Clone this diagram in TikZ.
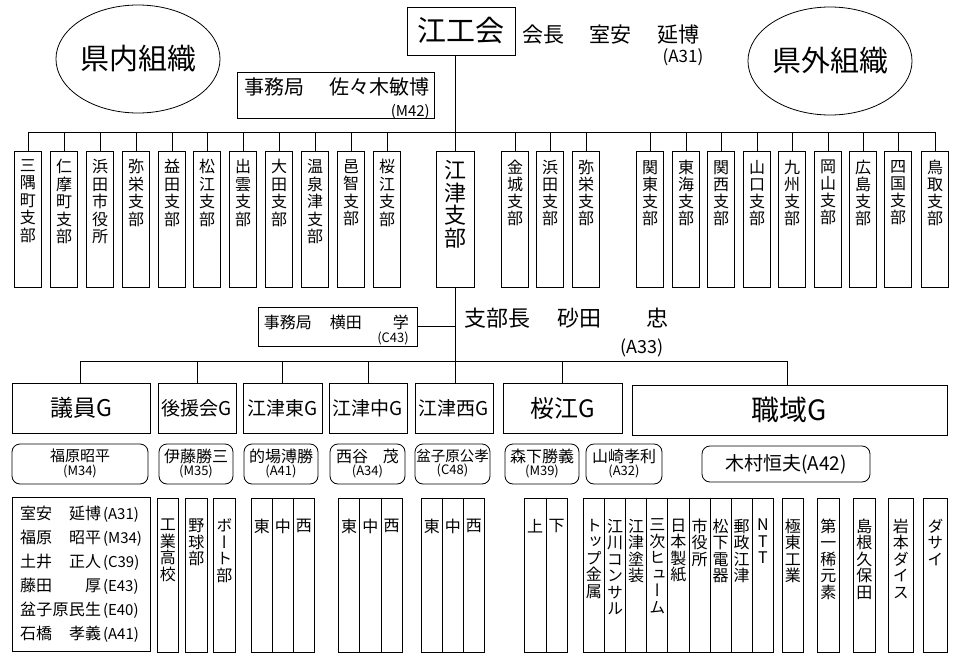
\documentclass[tikz,border=0pt]{standalone}
\usepackage{fontspec}
\usepackage{graphicx}
\setmainfont{Noto Sans CJK JP}
\newfontfamily\vfont[RawFeature=+vert]{Noto Sans CJK JP}
\usetikzlibrary{shapes.geometric}
\newcommand\fs[1]{\fontsize{#1}{#1}\selectfont}
\newdimen\vtw
\def\vtend{\vtend}
\def\vtA#1{\ifx#1\vtend\else\hbox to\vtw{\hss#1\hss}\expandafter\vtA\fi}
\newcommand\vcol[6]{\vbox to #2{\kern#3\hbox to #1{\hss\vbox{\fontsize{#4}{#5}\vfont\vtw=#4\relax\expandafter\vtA#6\vtend}\hss}\vfil}}
\newcommand\two[3]{\begin{tabular}{@{}c@{}}\fs{#1}#2\\[-1pt]\fs{13}#3\end{tabular}}
\newcommand\mline[3]{\hbox{\hbox to 81pt{#1\hfill#2}\kern2pt\fs{15}#3}}
\tikzset{
  box/.style={draw, line width=0.8pt, inner sep=0pt},
  ln/.style={line width=0.8pt},
  ellbox/.style={draw, ellipse, line width=0.8pt, inner sep=0pt, minimum width=146pt, minimum height=108pt, font=\fs{29}},
  txt/.style={inner sep=0pt},
  branch/.style={box, anchor=north},
  grp/.style={box, minimum height=50pt},
  person/.style={box, rounded corners=8pt, minimum height=40pt},
  col/.style={box, anchor=north west},
}
\begin{document}
\begin{tikzpicture}[x=1pt,y=-1pt]
\useasboundingbox (0,0) rectangle (967,664);
% top
\node[ellbox] (kennai) at (138,59) {県内組織};
\node[ellbox] (kengai) at (830,61) {県外組織};
\node[box, minimum width=108pt, minimum height=48pt, font=\fs{29}] (koukou) at (461,31) {江工会};
\node[txt, anchor=west, font=\fs{21}] (kaicho) at (522,35) {会長\hspace{25pt}室安\hspace{26pt}延博};
\node[txt, font=\fs{17}] (a31) at (683,57) {(A31)};
\node[box, minimum width=197pt, minimum height=46pt] (jim1) at (335.5,95) {};
\node[txt, anchor=east, font=\fs{20}] (jim1t) at (430,87) {事務局\hspace{25pt}佐々木敏博};
\node[txt, anchor=east, font=\fs{15}] (jim1c) at (430,112) {(M42)};
% branches
\coordinate (busL) at (28,132);
\coordinate (busR) at (935,132);
\draw[ln] (busL) -- (busR);
\foreach \x/\t [count=\i] in {28/三隅町支部,64/仁摩町支部,100/浜田市役所,136/弥栄支部,172/益田支部,207/松江支部,243/出雲支部,279/大田支部,315/温泉津支部,351/邑智支部,387/桜江支部}{
  \node[branch] (bl\i) at (\x,151) {\vcol{27pt}{136pt}{8pt}{16pt}{17.5pt}{\t}};
  \draw[ln] (bl\i.north) -- (bl\i.north |- busL);
}
\foreach \x/\t [count=\i] in {515/金城支部,550/浜田支部,586/弥栄支部,650/関東支部,686/東海支部,721/関西支部,757/山口支部,792/九州支部,828/岡山支部,863/広島支部,898/四国支部,935/鳥取支部}{
  \node[branch] (br\i) at (\x,151) {\vcol{27pt}{136pt}{9pt}{16pt}{17pt}{\t}};
  \draw[ln] (br\i.north) -- (br\i.north |- busL);
}
\node[branch] (etsu) at (455,151) {\vcol{38pt}{136pt}{9pt}{22pt}{22.7pt}{江津支部}};
\draw[ln] (koukou.south -| etsu.north) -- (etsu.north);
% branch office
\node[box, minimum width=159pt, minimum height=39pt] (jim2) at (337.5,326.5) {};
\node[txt, anchor=east, font=\fs{16}] (jim2t) at (409,322) {事務局\hspace{18pt}横田\hspace{31pt}学};
\node[txt, anchor=east, font=\fs{13}] (jim2c) at (409,338) {(C43)};
\node[txt, anchor=west, font=\fs{22}] (shibucho) at (464,318) {支部長\hspace{27pt}砂田\hspace{45pt}忠};
\node[txt, font=\fs{18}] (a33) at (642,348) {(A33)};
% groups
\node[grp, minimum width=138pt, font=\fs{23}] (g1) at (81,408) {議員G};
\node[grp, minimum width=78pt, font=\fs{19}] (g2) at (197,408) {後援会G};
\node[grp, minimum width=79pt, font=\fs{19}] (g3) at (282.5,408) {江津東G};
\node[grp, minimum width=78pt, font=\fs{19}] (g4) at (368,408) {江津中G};
\node[grp, minimum width=78pt, font=\fs{19}] (g5) at (454,408) {江津西G};
\node[grp, minimum width=119pt, font=\fs{24}] (g6) at (562.5,408) {桜江G};
\node[grp, minimum width=315pt, font=\fs{28}] (g7) at (789.5,410) {職域G};
\draw[ln] (etsu.south) -- (etsu.south |- g5.north);
\draw[ln] (jim2.east) -- (jim2.east -| etsu.south);
\coordinate (gL) at (80,361);
\coordinate (gR) at (787,361);
\draw[ln] (gL) -- (gR);
\draw[ln] (g1.north -| gL) -- (gL);
\foreach \g in {g2,g3,g4,g6}{\draw[ln] (\g.north) -- (\g.north |- gL);}
\draw[ln] (gR) -- (gR |- g7.north);
% persons
\node[person, minimum width=136pt] (p1) at (80,464) {\two{15}{福原昭平}{(M34)}};
\node[person, minimum width=74pt] (p2) at (196,464) {\two{16}{伊藤勝三}{(M35)}};
\node[person, minimum width=74pt] (p3) at (281,464) {\two{16}{的場溥勝}{(A41)}};
\node[person, minimum width=75pt] (p4) at (367.5,464) {\two{16}{西谷\hspace{15pt}茂}{(A34)}};
\node[person, minimum width=75pt] (p5) at (452.5,464) {\two{14.5}{盆子原公孝}{(C48)}};
\node[person, minimum width=74pt] (p6) at (542,464) {\two{16}{森下勝義}{(M39)}};
\node[person, minimum width=76pt] (p7) at (624,464) {\two{16}{山崎孝利}{(A32)}};
\node[person, minimum width=168pt, minimum height=36pt, font=\fs{19}] (p8) at (786,464) {木村恒夫(A42)};
% bottom
\node[box, minimum width=138pt, minimum height=154pt] (members) at (81,574.5) {\vbox{\fs{16}\baselineskip=24pt\mline{室安}{延博}{(A31)}\mline{福原}{昭平}{(M34)}\mline{土井}{正人}{(C39)}\mline{藤田}{厚}{(E43)}\mline{盆\hfill{}子\hfill{}原\hfill{}民}{生}{(E40)}\mline{石橋}{孝義}{(A41)}}};
\foreach \x/\w/\t [count=\i] in {157/21/工業高校,185/22/野球部,213/22/ボート部,
  251/21/東,272/21/中,293/21/西,
  338/21.33/東,359.33/21.33/中,380.67/21.33/西,
  421/21/東,442/21/中,463/21/西,
  524/21.5/上,545.5/21.5/下,
  583/21.11/トップ金属,604.11/21.11/江川コンサル,625.22/21.11/江津塗装,646.33/21.11/三次ヒューム,667.44/21.11/日本製紙,688.56/21.11/市役所,709.67/21.11/松下電器,730.78/21.11/郵政江津,751.89/21.11/NTT,
  782/21/極東工業,817/22/第一稀元素,853/22/島根久保田,888/25/岩本ダイス,923/24/ダサイ}{
  \node[col] (c\i) at (\x,497.5) {\vcol{\w pt}{154pt}{21pt}{16pt}{16.5pt}{\t}};
}
\end{tikzpicture}
\end{document}
